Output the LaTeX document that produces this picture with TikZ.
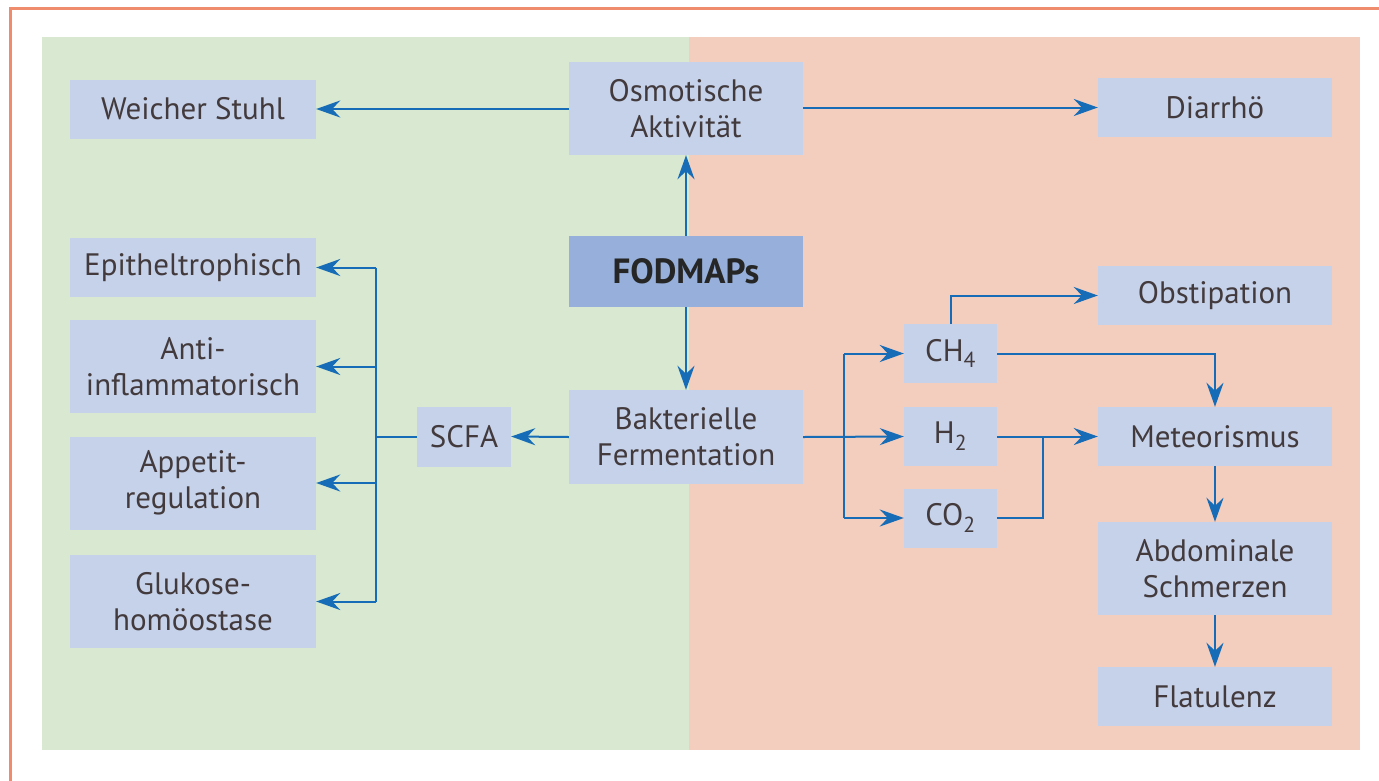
\documentclass[tikz,border=0pt]{standalone}
\usepackage{fontspec}
\setmainfont{PT Sans}
\usetikzlibrary{arrows.meta,calc}
\definecolor{greenbg}{RGB}{216,232,209}
\definecolor{salmonbg}{RGB}{243,206,191}
\definecolor{boxc}{RGB}{198,210,234}
\definecolor{fodc}{RGB}{150,176,219}
\definecolor{arrc}{RGB}{22,108,182}
\definecolor{bordc}{RGB}{240,140,110}
\definecolor{txtc}{RGB}{66,58,60}
\tikzset{
  box/.style={fill=boxc, inner sep=0pt, align=center, text=txtc,
    font=\fontsize{31}{36}\selectfont},
  wide/.style={box, minimum width=234pt},
  wideL/.style={box, minimum width=246pt},
  gas/.style={box, minimum width=93pt, minimum height=59pt},
  one/.style={minimum height=59pt},
  two/.style={minimum height=93pt},
  con/.style={draw=arrc, line width=2pt},
  arr/.style={con, -{Stealth[length=24pt,width=17pt,inset=8pt]}},
}
\begin{document}
\begin{tikzpicture}[x=1pt,y=-1pt]
\useasboundingbox (0,0) rectangle (1379,780);
\fill[greenbg] (42,37) rectangle (689,750);
\fill[salmonbg] (689,37) rectangle (1360,750);
\draw[bordc, line width=3pt] (10,781) -- (10,8) -- (1380,8);

\node[wideL, one] (ws) at (193,109) {Weicher Stuhl};
\node[wide, two] (osm) at (686,108.5) {Osmotische\\Aktivität};
\node[wide, one] (dia) at (1215,107.5) {Diarrhö};
\node[wide, minimum height=71pt, fill=fodc, text=black!85, font=\fontsize{35}{40}\selectfont\bfseries] (fod) at (686,271.5) {FODMAPs};
\node[wide, minimum height=94pt] (bak) at (686,437) {Bakterielle\\Fermentation};
\node[box, minimum width=94pt, minimum height=60pt] (scfa) at (464,436.5) {SCFA};
\node[wideL, one] (epi) at (193,267.5) {Epitheltrophisch};
\node[wideL, two] (anti) at (193,366.5) {Anti-\\inflammatorisch};
\node[wideL, two] (app) at (193,483) {Appetit-\\regulation};
\node[wideL, two] (glu) at (193,601.5) {Glukose-\\homöostase};
\node[wide, one] (obs) at (1215,295.5) {Obstipation};
\node[gas] (ch4) at (950.5,353.5) {CH\textsubscript{4}};
\node[gas] (h2) at (950.5,436.5) {H\textsubscript{2}};
\node[gas] (co2) at (950.5,518) {CO\textsubscript{2}};
\node[wide, one] (met) at (1215,436.5) {Meteorismus};
\node[wide, two] (abd) at (1215,568.5) {Abdominale\\Schmerzen};
\node[wide, one] (fla) at (1215,696.5) {Flatulenz};

% top row
\draw[arr] (osm.west |- ws.east) -- (ws.east);
\draw[arr] (osm.east |- dia.west) -- (dia.west);
\draw[arr] (fod.north) -- (osm.south);
\draw[arr] (fod.south) -- (bak.north);

% SCFA tree
\coordinate (sj) at (376,436.5);
\draw[arr] (bak.west) -- (scfa.east);
\draw[con] (scfa.west) -- (sj);
\draw[con] (sj |- epi.east) -- (sj |- glu.east);
\draw[arr] (sj |- epi.east) -- (epi.east);
\draw[arr] (sj |- anti.east) -- (anti.east);
\draw[arr] (sj |- app.east) -- (app.east);
\draw[arr] (sj |- glu.east) -- (glu.east);

% gases
\coordinate (gj) at (844,436.5);
\draw[arr] (bak.east) -- (h2.west);
\draw[con] (gj |- ch4.west) -- (gj |- co2.west);
\draw[arr] (gj |- ch4.west) -- (ch4.west);
\draw[arr] (gj |- co2.west) -- (co2.west);
\draw[arr] (ch4.north) |- (obs.west);
\draw[arr] (ch4.east) -| (met.north);
\draw[arr] (h2.east) -- (met.west);
\coordinate (cj) at (1043,436.5);
\draw[con] (co2.east) -| (cj);
\draw[arr] (met.south) -- (abd.north);
\draw[arr] (abd.south) -- (fla.north);
\end{tikzpicture}
\end{document}
